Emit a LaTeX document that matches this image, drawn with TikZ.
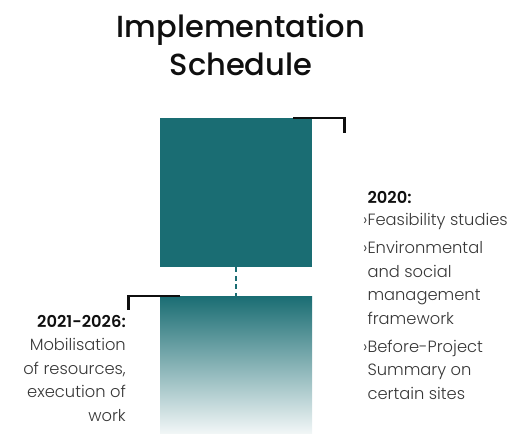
\documentclass[tikz,border=0pt]{standalone}
\usepackage{fontspec}
\setmainfont{Poppins Light}[BoldFont=Poppins SemiBold]
\newfontfamily\titlefont{Poppins Medium}
\usepackage{tikz}
\usetikzlibrary{positioning,calc}
\definecolor{teal}{RGB}{26,109,115}
\definecolor{inkgray}{RGB}{55,55,55}
\definecolor{inkblack}{RGB}{15,15,15}
\tikzset{
  phase/.style={draw=none,minimum width=152pt,minimum height=149pt,inner sep=0pt,anchor=north west},
  fade/.style={phase,minimum height=137pt,top color=teal,bottom color=teal!6},
  bracket/.style={draw=inkblack,line width=2.4pt},
  link/.style={draw=teal,line width=2pt,dash pattern=on 5pt off 3.5pt},
  note/.style={font=\fontsize{16.3}{23.5}\selectfont,text=inkgray,inner sep=0pt}
}

\begin{document}
\begin{tikzpicture}[x=1pt,y=-1pt]
\useasboundingbox (0,0) rectangle (515,434);
% title
\node[font=\fontsize{30.5}{38}\titlefont,text=inkblack,align=center] (title) at (241,45) {Implementation\\Schedule};
% blocks
\node[phase,fill=teal] (phaseA) at (160,118) {};
\node[fade] (phaseB) at (160,296) {};
\draw[link] (phaseA.south) -- (phaseB.north);
% brackets
\coordinate (tagA) at (344.5,133);
\coordinate (tagB) at (128.5,310);
\draw[bracket] ([xshift=-19pt]phaseA.north east) -| (tagA);
\draw[bracket] ([xshift=20pt]phaseB.north west) -| (tagB);
% labels
\node[note,anchor=north west,align=left] (textA) at (363,191.5) {%
  \hphantom{›}\textbf{\color{inkblack}2020:}\\[-1.5pt]
  ›Feasibility studies\\[4.5pt]
  ›Environmental\\
  \hphantom{›}and social\\
  \hphantom{›}management\\
  \hphantom{›}framework\\[4.5pt]
  ›Before-Project\\
  \hphantom{›}Summary on\\
  \hphantom{›}certain sites};
\node[note,anchor=north east,align=right] (textB) at (126,315) {%
  \textbf{\color{inkblack}2021-2026:}\\
  Mobilisation\\
  of resources,\\
  execution of\\
  work};
\end{tikzpicture}
\end{document}
